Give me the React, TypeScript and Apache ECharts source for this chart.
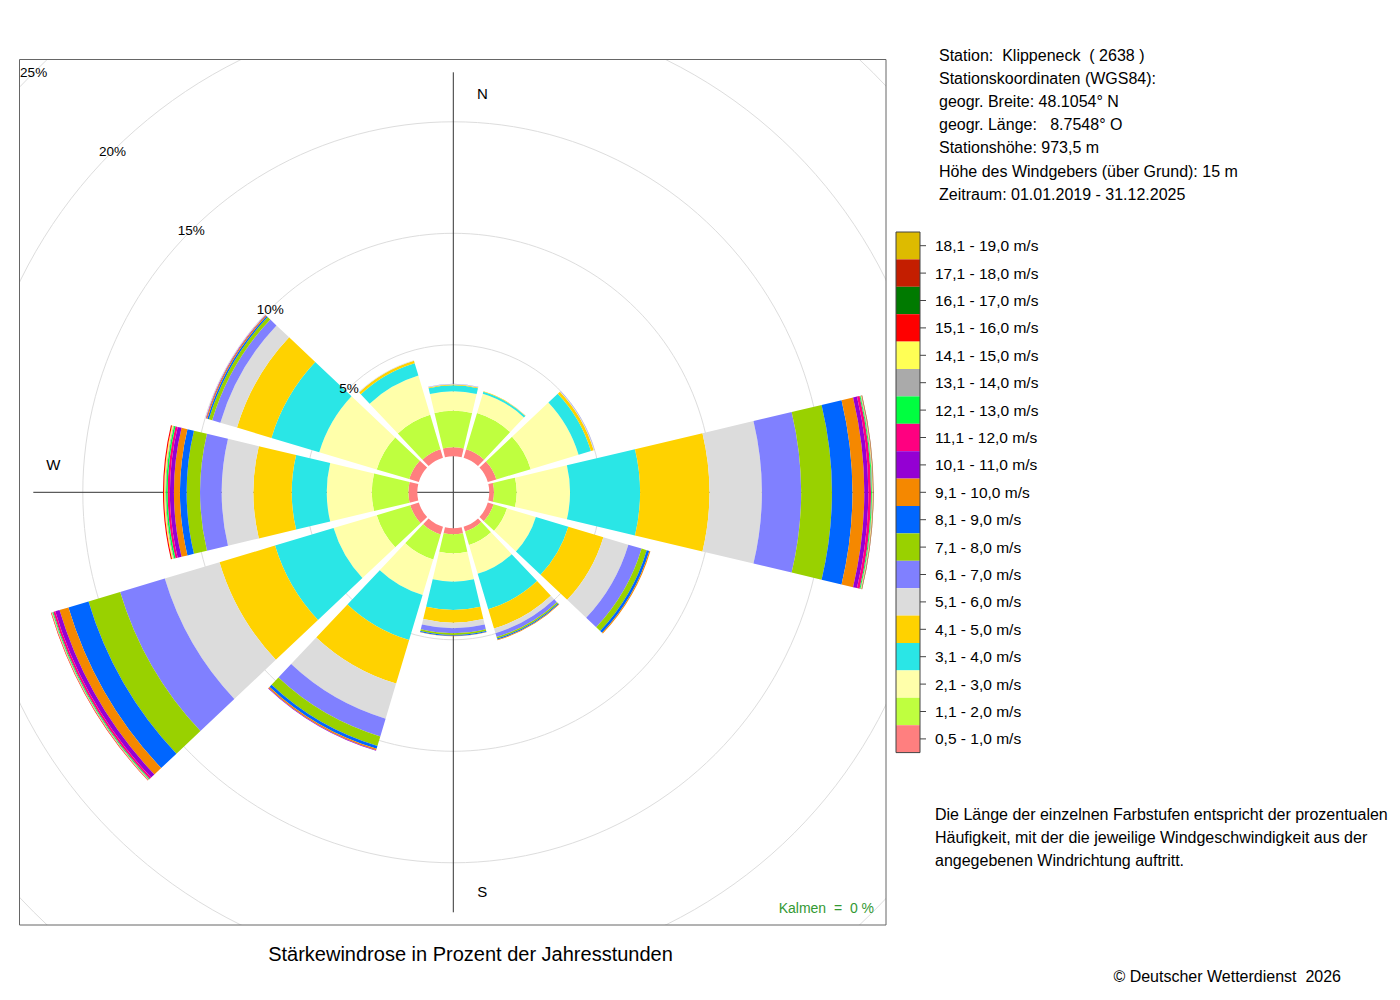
import React, { useEffect, useRef } from "react";
import * as echarts from "echarts";

// ---------- data ----------
const directions = ["N", "30°", "60°", "O", "120°", "150°", "S", "210°", "240°", "W", "300°", "330°"];

const speedClasses = [
  "0,5 - 1,0 m/s", "1,1 - 2,0 m/s", "2,1 - 3,0 m/s", "3,1 - 4,0 m/s", "4,1 - 5,0 m/s",
  "5,1 - 6,0 m/s", "6,1 - 7,0 m/s", "7,1 - 8,0 m/s", "8,1 - 9,0 m/s", "9,1 - 10,0 m/s",
  "10,1 - 11,0 m/s", "11,1 - 12,0 m/s", "12,1 - 13,0 m/s", "13,1 - 14,0 m/s", "14,1 - 15,0 m/s",
  "15,1 - 16,0 m/s", "16,1 - 17,0 m/s", "17,1 - 18,0 m/s", "18,1 - 19,0 m/s",
];

const classColors = [
  "#FF7F7F", "#BFFF3F", "#FFFFAA", "#2AE6E6", "#FFD200",
  "#DCDCDC", "#8080FF", "#99D100", "#0066FF", "#F58800",
  "#9400D3", "#FF0080", "#00FF40", "#AAAAAA", "#FFFF55",
  "#FF0000", "#007A00", "#C41E00", "#DDBB00",
];

// percent of hours per speed class (0,5-1,0 m/s first) for each direction
const dir000 = [0.40, 1.64, 0.88, 0.26, 0.04, 0.02, 0.01];
const dir030 = [0.40, 1.70, 0.90, 0.09, 0.02, 0.01];
const dir060 = [0.40, 1.61, 2.24, 0.58, 0.13, 0.03, 0.01];
const dir090 = [0.21, 1.02, 2.39, 3.14, 3.11, 2.35, 1.76, 1.38, 0.92, 0.53, 0.18, 0.12, 0.04, 0.03, 0.02, 0.01, 0.01, 0.01];
const dir120 = [0.27, 0.63, 1.35, 1.52, 1.64, 1.17, 0.62, 0.24, 0.12, 0.05];
const dir150 = [0.22, 0.63, 1.35, 1.66, 0.90, 0.22, 0.18, 0.07, 0.05, 0.03];
const dir180 = [0.27, 0.85, 1.27, 1.27, 0.57, 0.25, 0.22, 0.08, 0.04, 0.02];
const dir210 = [0.36, 1.17, 1.66, 2.11, 2.04, 1.64, 0.83, 0.45, 0.13, 0.07, 0.02];
const dir240 = [0.40, 1.57, 2.02, 2.74, 2.60, 2.56, 2.09, 1.48, 0.94, 0.42, 0.20, 0.09, 0.04, 0.03, 0.02, 0.02];
const dir270 = [0.40, 1.64, 2.02, 1.57, 1.72, 1.42, 0.97, 0.60, 0.30, 0.27, 0.18, 0.10, 0.07, 0.04, 0.05, 0.05];
const dir300 = [0.45, 1.52, 2.69, 2.24, 1.61, 0.78, 0.38, 0.16, 0.07, 0.05, 0.02];
const dir330 = [0.40, 1.61, 1.84, 0.58, 0.11, 0.03];

const directionValues = [dir000, dir030, dir060, dir090, dir120, dir150, dir180, dir210, dir240, dir270, dir300, dir330];

const radialMax = 25;
const radialStep = 5;

const headerLines = [
  "Station:  Klippeneck  ( 2638 )",
  "Stationskoordinaten (WGS84):",
  "geogr. Breite: 48.1054° N",
  "geogr. Länge:   8.7548° O",
  "Stationshöhe: 973,5 m",
  "Höhe des Windgebers (über Grund): 15 m",
  "Zeitraum: 01.01.2019 - 31.12.2025",
];

const noteLines = [
  "Die Länge der einzelnen Farbstufen entspricht der prozentualen",
  "Häufigkeit, mit der die jeweilige Windgeschwindigkeit aus der",
  "angegebenen Windrichtung auftritt.",
];

const titleText = "Stärkewindrose in Prozent der Jahresstunden";
const copyrightText = "© Deutscher Wetterdienst  2026";
const calmText = "Kalmen  =  0 %";

// ---------- layout ----------
const FONT = '"Liberation Sans", Arial, Helvetica, sans-serif';
const CX = 453.3;
const CY = 492.3;
const R0 = 36;
const PX_PER_PCT = 22.3;
const R_MAX = R0 + radialMax * PX_PER_PCT;
const CROSS_LEN = 420;
const BOX = { x1: 19.5, y1: 59.5, x2: 886, y2: 925 };
const LEG = { x: 896, y: 232, w: 24, h: 27.4 };

function App() {
  const ref = useRef<HTMLDivElement>(null);

  useEffect(() => {
    if (!ref.current) return;
    const chart = echarts.init(ref.current, null, { renderer: "svg" });

    const series = speedClasses.map((name, ci) => ({
      type: "bar",
      name,
      coordinateSystem: "polar",
      polarIndex: 0,
      stack: "rose",
      barCategoryGap: "11%",
      silent: true,
      emphasis: { disabled: true },
      itemStyle: { color: classColors[ci] },
      data: directionValues.map((d) => (d[ci] !== undefined ? d[ci] : 0)),
    }));

    const hidden = {
      axisLine: { show: false },
      axisTick: { show: false },
      axisLabel: { show: false },
      splitLine: { show: false },
    };

    const txt = (text: string, x: number, y: number, size: number, align = "left", color = "#000") => ({
      type: "text",
      z: 10,
      style: {
        text,
        x,
        y,
        fill: color,
        fontSize: size,
        fontFamily: FONT,
        textAlign: align,
        textVerticalAlign: "middle",
        verticalAlign: "middle",
      },
    });

    const graphics: any[] = [];
    // masks outside plot box
    const W = 1400, H = 1000;
    [
      [0, 0, BOX.x1, H],
      [BOX.x2, 0, W - BOX.x2, H],
      [0, 0, W, BOX.y1],
      [0, BOX.y2, W, H - BOX.y2],
    ].forEach(([x, y, w, h]) =>
      graphics.push({ type: "rect", z: 1, shape: { x, y, width: w, height: h }, style: { fill: "#fff" } })
    );
    // plot box
    graphics.push({
      type: "rect",
      z: 10,
      shape: { x: BOX.x1, y: BOX.y1, width: BOX.x2 - BOX.x1, height: BOX.y2 - BOX.y1 },
      style: { fill: "none", stroke: "#666", lineWidth: 1 },
    });
    // compass letters
    graphics.push(txt("N", CX + 29, CY - 399, 15, "center"));
    graphics.push(txt("S", CX + 29, CY + 399, 15, "center"));
    graphics.push(txt("W", CX - 400, CY - 28, 15, "center"));
    // legend frame + ticks
    graphics.push({
      type: "rect",
      z: 10,
      shape: { x: LEG.x, y: LEG.y, width: LEG.w, height: LEG.h * speedClasses.length },
      style: { fill: "none", stroke: "#444", lineWidth: 1 },
    });
    speedClasses.forEach((_, i) => {
      const y = LEG.y + LEG.h * (i + 0.5);
      graphics.push({
        type: "line",
        z: 10,
        shape: { x1: LEG.x + LEG.w, y1: y, x2: LEG.x + LEG.w + 6, y2: y },
        style: { stroke: "#444", lineWidth: 1 },
      });
    });
    headerLines.forEach((t, i) => graphics.push(txt(t, 939, 55 + i * 23.2, 16)));
    noteLines.forEach((t, i) => graphics.push(txt(t, 935, 814 + i * 23, 16)));
    graphics.push(txt(titleText, 470.5, 954, 20, "center"));
    graphics.push(txt(copyrightText, 1341, 976, 16, "right"));
    graphics.push(txt(calmText, 874, 908, 14, "right", "#339933"));

    const polarBase = { center: [CX, CY] };

    const option: any = {
      animation: false,
      backgroundColor: "#fff",
      polar: [
        { ...polarBase, radius: [R0, R_MAX] }, // bars
        { ...polarBase, radius: [R0, R_MAX] }, // rings
        { ...polarBase, radius: [0, CROSS_LEN] }, // N-S / W-E lines
        { ...polarBase, radius: [R0, R_MAX] }, // ring labels
      ],
      angleAxis: [
        {
          polarIndex: 0,
          type: "category",
          data: directions,
          startAngle: 90 + 360 / directions.length / 2,
          clockwise: true,
          boundaryGap: true,
          ...hidden,
        },
        { polarIndex: 1, type: "value", min: 0, max: 360, startAngle: 135, ...hidden },
        {
          polarIndex: 2,
          type: "value",
          min: 0,
          max: 360,
          interval: 90,
          startAngle: 90,
          clockwise: true,
          axisLine: { show: false },
          axisTick: { show: false },
          axisLabel: { show: false },
          splitLine: { show: true, lineStyle: { color: "#333", width: 1 } },
        },
        { polarIndex: 3, type: "value", min: 0, max: 360, startAngle: 135, ...hidden },
      ],
      radiusAxis: [
        { polarIndex: 0, type: "value", min: 0, max: radialMax, ...hidden },
        {
          polarIndex: 1,
          type: "value",
          min: 0,
          max: radialMax,
          interval: radialStep,
          axisLine: { show: false },
          axisTick: { show: false },
          axisLabel: { show: false },
          splitLine: {
            show: true,
            lineStyle: { color: ["rgba(0,0,0,0)", "#dddddd", "#dddddd", "#dddddd", "#dddddd", "#dddddd"], width: 1 },
          },
        },
        { polarIndex: 2, type: "value", min: 0, max: 1, ...hidden },
        {
          polarIndex: 3,
          type: "value",
          min: 0,
          max: radialMax,
          interval: radialStep,
          z: 10,
          axisLine: { show: false },
          axisTick: { show: false },
          splitLine: { show: false },
          axisLabel: {
            show: true,
            margin: 0,
            align: "center",
            verticalAlign: "middle",
            fontSize: 13.5,
            fontFamily: FONT,
            color: "#000",
            hideOverlap: false,
            formatter: (v: number) => (v === 0 ? "" : v + "%"),
          },
        },
      ],
      legend: {
        orient: "vertical",
        left: LEG.x,
        top: LEG.y,
        padding: 0,
        itemGap: 0,
        itemWidth: LEG.w,
        itemHeight: LEG.h,
        icon: "rect",
        selectedMode: false,
        data: [...speedClasses].reverse(),
        textStyle: { fontSize: 15.5, color: "#000", fontFamily: FONT, padding: [0, 0, 0, 10] },
      },
      graphic: { elements: graphics },
      series,
    };

    chart.setOption(option);
    return () => chart.dispose();
  }, []);

  return (
    <div
      ref={ref}
      style={{ position: "absolute", left: 0, top: 0, width: 1400, height: 1000, background: "#fff" }}
    />
  );
}

export default App;
